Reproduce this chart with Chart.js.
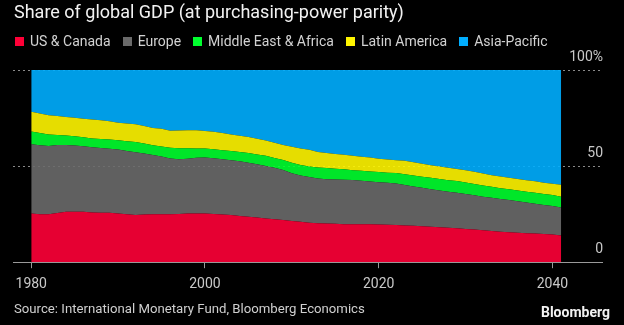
<!DOCTYPE html>
<html>
<head>
<meta charset="utf-8">
<script src="https://cdn.jsdelivr.net/npm/chart.js@4"></script>
<style>
  html, body { margin: 0; padding: 0; background: #000; }
  #wrap { position: relative; width: 624px; height: 325px; overflow: hidden; font-family: Roboto, "Noto Sans", sans-serif; }
  #wrap canvas { position: absolute; left: 0; top: 0; }
  .title { position: absolute; left: 14px; top: 3px; font-size: 18px; line-height: 17px; color: #f2f2f2; white-space: nowrap; }
  .legend { position: absolute; left: 15px; top: 34px; display: flex; gap: 12px; font-size: 14px; line-height: 14px; color: #d2d2d2; white-space: nowrap; }
  .legend span { display: flex; align-items: center; }
  .legend i { display: inline-block; width: 9px; height: 9px; margin-right: 6px; }
  .source { position: absolute; left: 14px; top: 302px; font-size: 13.2px; line-height: 13px; color: #cfcfcf; white-space: nowrap; }
  .brand { position: absolute; right: 14px; top: 305px; font-size: 14px; line-height: 14px; font-weight: bold; color: #f2f2f2; }
</style>
</head>
<body>
<div id="wrap">
  <canvas id="gdpChart"></canvas>
  <div class="title">Share of global GDP (at purchasing-power parity)</div>
  <div class="legend" id="legend"></div>
  <div class="source">Source: International Monetary Fund, Bloomberg Economics</div>
  <div class="brand">Bloomberg</div>
</div>
<script>
// share of world GDP (PPP), percent, one value per year
const years = [
  1980, 1981, 1982, 1983, 1984, 1985, 1986, 1987, 1988, 1989,
  1990, 1991, 1992, 1993, 1994, 1995, 1996, 1997, 1998, 1999,
  2000, 2001, 2002, 2003, 2004, 2005, 2006, 2007, 2008, 2009,
  2010, 2011, 2012, 2013, 2014, 2015, 2016, 2017, 2018, 2019,
  2020, 2021, 2022, 2023, 2024, 2025, 2026, 2027, 2028, 2029,
  2030, 2031, 2032, 2033, 2034, 2035, 2036, 2037, 2038, 2039,
  2040, 2041
];

const usCanada = [
  25.4, 25.0, 25.0, 25.6, 26.2, 26.3, 26.2, 25.8, 25.7, 25.7,
  25.3, 24.9, 24.5, 24.8, 24.9, 24.9, 24.9, 25.1, 25.3, 25.4,
  25.3, 25.1, 24.8, 24.5, 24.1, 23.7, 23.3, 22.8, 22.4, 21.9,
  21.4, 21.0, 20.5, 20.3, 20.2, 20.0, 19.8, 19.8, 19.8, 19.7,
  19.6, 19.5, 19.3, 19.1, 18.9, 18.7, 18.5, 18.2, 17.9, 17.6,
  17.3, 17.0, 16.6, 16.2, 15.9, 15.6, 15.3, 15.1, 14.9, 14.7,
  14.4, 13.9
];

const europe = [
  36.0, 35.9, 35.5, 35.4, 34.8, 34.4, 34.1, 34.0, 33.7, 33.3,
  33.3, 33.0, 32.7, 31.7, 30.9, 30.1, 29.1, 28.5, 28.5, 28.9,
  29.2, 29.0, 28.8, 28.6, 28.4, 28.0, 27.7, 27.3, 26.7, 26.1,
  24.9, 24.1, 23.8, 23.2, 23.0, 23.0, 23.1, 23.0, 22.6, 22.3,
  22.0, 21.8, 21.6, 21.1, 20.5, 20.0, 19.5, 19.1, 18.8, 18.5,
  18.2, 17.8, 17.5, 17.3, 17.0, 16.7, 16.4, 15.9, 15.5, 15.1,
  14.8, 14.6
];

const middleEastAfrica = [
  6.6, 6.3, 5.9, 5.2, 4.9, 4.8, 4.7, 4.5, 4.7, 4.9,
  4.9, 5.0, 5.4, 5.3, 5.0, 5.2, 5.5, 5.7, 5.5, 4.9,
  4.6, 4.7, 4.7, 4.8, 4.9, 5.1, 5.1, 5.3, 5.1, 5.2,
  5.5, 5.5, 5.5, 5.8, 5.8, 5.6, 5.4, 5.1, 5.2, 5.2,
  5.3, 5.3, 5.5, 5.6, 5.7, 5.8, 5.9, 6.0, 6.0, 6.1,
  6.0, 5.9, 5.8, 5.7, 5.6, 5.6, 5.6, 5.7, 5.7, 5.7,
  5.7, 5.6
];

const latinAmerica = [
  10.3, 10.2, 10.1, 9.9, 9.7, 9.7, 9.7, 10.0, 9.7, 9.4,
  9.1, 9.3, 9.2, 9.0, 9.0, 9.2, 8.9, 9.2, 9.4, 9.4,
  9.2, 9.1, 8.9, 8.6, 8.4, 8.3, 8.1, 7.9, 8.0, 7.8,
  8.3, 8.5, 8.7, 8.0, 7.8, 7.7, 7.6, 7.5, 7.3, 7.3,
  6.9, 6.8, 6.7, 7.0, 6.9, 6.7, 6.6, 6.5, 6.4, 6.3,
  6.4, 6.3, 6.2, 6.1, 6.1, 6.0, 6.0, 6.0, 6.0, 5.9,
  5.9, 6.2
];

const asiaPacific = [
  21.7, 22.6, 23.5, 23.9, 24.4, 24.8, 25.3, 25.7, 26.2, 26.7,
  27.4, 27.8, 28.2, 29.2, 30.2, 30.6, 31.6, 31.5, 31.3, 31.4,
  31.7, 32.1, 32.8, 33.5, 34.2, 34.9, 35.8, 36.7, 37.8, 39.0,
  39.9, 40.9, 41.5, 42.7, 43.2, 43.7, 44.1, 44.6, 45.1, 45.5,
  46.2, 46.6, 46.9, 47.2, 48.0, 48.8, 49.5, 50.2, 50.9, 51.5,
  52.1, 53.0, 53.9, 54.7, 55.4, 56.1, 56.7, 57.3, 57.9, 58.6,
  59.2, 59.7
];

const xTickYears = [1980, 2000, 2020, 2040];
const yTickValues = [0, 50, 100];

const series = [
  { label: "US & Canada", values: usCanada, color: "255, 0, 55" },
  { label: "Europe", values: europe, color: "106, 106, 106" },
  { label: "Middle East & Africa", values: middleEastAfrica, color: "0, 255, 46" },
  { label: "Latin America", values: latinAmerica, color: "255, 245, 0" },
  { label: "Asia-Pacific", values: asiaPacific, color: "0, 174, 255" }
];

// html legend, same order as the stack
const legendEl = document.getElementById("legend");
series.forEach(s => {
  legendEl.innerHTML += `<span><i style="background: rgb(${s.color})"></i>${s.label}</span>`;
});

const datasets = series.map((s, i) => ({
  label: s.label,
  data: s.values.map((v, j) => ({ x: years[j], y: v })),
  backgroundColor: `rgba(${s.color}, 0.9)`,
  borderWidth: 0,
  pointRadius: 0,
  tension: 0,
  fill: i === 0 ? "origin" : "-1"
}));

const tickFont = { family: "Roboto", size: 14 };

new Chart(document.getElementById("gdpChart"), {
  type: "line",
  data: { datasets },
  options: {
    responsive: true,
    maintainAspectRatio: false,
    animation: false,
    layout: { padding: { top: 70, right: 20, bottom: 24, left: 13 } },
    plugins: {
      legend: { display: false },
      tooltip: { enabled: false }
    },
    scales: {
      x: {
        type: "linear",
        min: 1977.9,
        max: 2045.7,
        afterBuildTicks: axis => { axis.ticks = xTickYears.map(v => ({ value: v })); },
        ticks: { color: "#c8c8c8", font: tickFont, padding: 8, maxRotation: 0, callback: v => String(v) },
        grid: { drawOnChartArea: false, drawTicks: true, tickLength: 6, color: "#9a9a9a" },
        border: { display: true, color: "#9a9a9a", width: 1 }
      },
      y: {
        position: "right",
        stacked: true,
        min: 0,
        max: 100,
        afterBuildTicks: axis => { axis.ticks = yTickValues.map(v => ({ value: v })); },
        ticks: {
          mirror: true,
          padding: 1,
          labelOffset: -13,
          color: "#c8c8c8",
          font: tickFont,
          callback: v => v === 100 ? "100%" : String(v)
        },
        grid: {
          drawTicks: false,
          color: ctx => ctx.tick && ctx.tick.value === 0 ? "rgba(0,0,0,0)" : "#8a8a8a"
        },
        border: { display: false, dash: [2, 3] }
      }
    }
  }
});
</script>
</body>
</html>
